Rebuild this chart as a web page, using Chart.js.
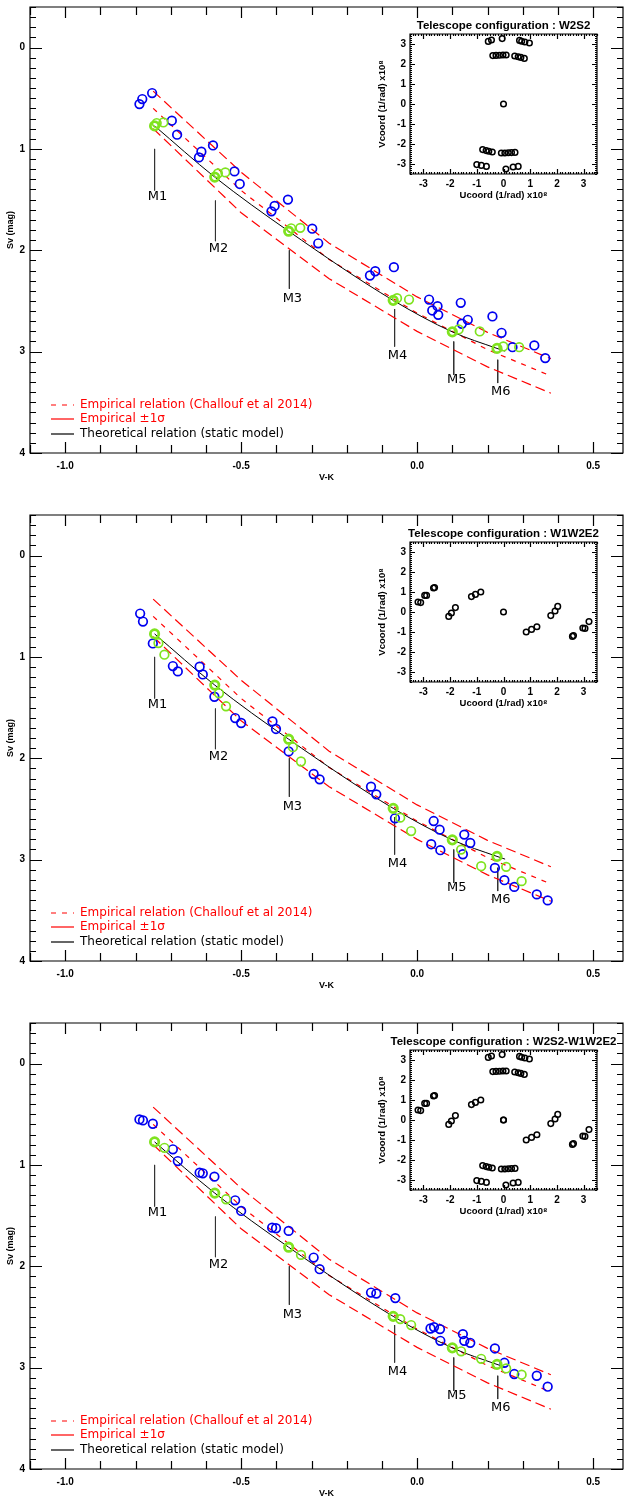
<!DOCTYPE html>
<html>
<head>
<meta charset="utf-8">
<script src="https://cdn.jsdelivr.net/npm/chart.js@4.4.0/dist/chart.umd.min.js"></script>
<style>
  body { margin: 0; background: #fff; width: 624px; height: 1496px; overflow: hidden; position: relative; }
  canvas { position: absolute; left: 0; }
  canvas.inset { left: 370px; }
</style>
</head>
<body>
<canvas id="main1" width="630" height="500" style="top:0px"></canvas>
<canvas id="main2" width="630" height="500" style="top:508px"></canvas>
<canvas id="main3" width="630" height="500" style="top:1016px"></canvas>
<canvas id="inset1" class="inset" width="254" height="196" style="top:14px"></canvas>
<canvas id="inset2" class="inset" width="254" height="196" style="top:522px"></canvas>
<canvas id="inset3" class="inset" width="254" height="196" style="top:1030px"></canvas>
<script>
// axes
const xMajorTicks = [-1.0, -0.5, 0.0, 0.5];
const xTickLabels = ['-1.0', '-0.5', '0.0', '0.5'];
const yMajorTicks = [0, 1, 2, 3, 4];
const yTickLabels = ['0', '1', '2', '3', '4'];
const uvTicks = [-3, -2, -1, 0, 1, 2, 3];
const uvTickLabels = ['-3', '-2', '-1', '0', '1', '2', '3'];

// theoretical relation (static model) and model points M1..M6
const theoX = [-0.746, -0.575, -0.365, -0.068, 0.100, 0.227, 0.250];
const theoY = [0.773, 1.278, 1.812, 2.494, 2.805, 2.968, 2.995];
const modelX = [-0.746, -0.575, -0.365, -0.068, 0.100, 0.227];
const modelY = [0.773, 1.278, 1.812, 2.494, 2.805, 2.968];

// empirical relation (Challouf et al 2014) and +-1 sigma
const empX = [-0.75, -0.5, -0.25, 0.0, 0.2, 0.38];
const empMid = [0.60, 1.41, 2.09, 2.62, 2.98, 3.24];
const empUp = [0.43, 1.23, 1.93, 2.46, 2.81, 3.07];
const empLow = [0.80, 1.63, 2.28, 2.80, 3.15, 3.41];

// M labels
const mLabels = ['M1', 'M2', 'M3', 'M4', 'M5', 'M6'];
const mX = [-0.746, -0.573, -0.363, -0.064, 0.104, 0.229];
const mLineTop = [1.00, 1.51, 2.00, 2.58, 2.90, 3.08];
const mLineBottom = [1.41, 1.91, 2.38, 2.95, 3.23, 3.31];
const mLabelY = [1.47, 1.98, 2.48, 3.04, 3.28, 3.39];

// panel 1 : W2S2
const blueX1 = [-0.789, -0.781, -0.753, -0.697, -0.682, -0.620, -0.613, -0.580, -0.519, -0.504, -0.414, -0.405, -0.367, -0.298, -0.281, -0.134, -0.119, -0.066, 0.034, 0.043, 0.058, 0.060, 0.124, 0.127, 0.144, 0.214, 0.240, 0.271, 0.333, 0.364];
const blueY1 = [0.558, 0.508, 0.449, 0.722, 0.860, 1.084, 1.028, 0.966, 1.222, 1.346, 1.616, 1.563, 1.500, 1.787, 1.931, 2.249, 2.207, 2.167, 2.486, 2.594, 2.552, 2.637, 2.518, 2.725, 2.686, 2.653, 2.814, 2.956, 2.939, 3.064];
const greenX1 = [-0.740, -0.721, -0.566, -0.545, -0.358, -0.332, -0.057, -0.023, 0.118, 0.178, 0.245, 0.290];
const greenY1 = [0.745, 0.739, 1.241, 1.232, 1.783, 1.779, 2.473, 2.486, 2.781, 2.801, 2.949, 2.956];

// panel 2 : W1W2E2
const blueX2 = [-0.787, -0.779, -0.751, -0.694, -0.680, -0.618, -0.609, -0.576, -0.517, -0.500, -0.411, -0.401, -0.365, -0.294, -0.277, -0.131, -0.116, -0.063, 0.047, 0.064, 0.040, 0.066, 0.134, 0.151, 0.130, 0.221, 0.248, 0.276, 0.340, 0.371];
const blueY2 = [0.572, 0.651, 0.867, 1.090, 1.143, 1.097, 1.173, 1.393, 1.603, 1.652, 1.636, 1.711, 1.932, 2.155, 2.208, 2.280, 2.356, 2.592, 2.619, 2.704, 2.848, 2.907, 2.753, 2.836, 2.947, 3.082, 3.203, 3.269, 3.343, 3.402];
const greenX2 = [-0.735, -0.718, -0.563, -0.543, -0.353, -0.330, -0.048, -0.017, 0.125, 0.182, 0.253, 0.297];
const greenY2 = [0.863, 0.978, 1.359, 1.487, 1.891, 2.032, 2.586, 2.718, 2.901, 3.065, 3.071, 3.212];

// panel 3 : W2S2-W1W2E2
const blueX3 = [-0.789, -0.779, -0.751, -0.694, -0.680, -0.618, -0.609, -0.576, -0.517, -0.500, -0.412, -0.401, -0.365, -0.294, -0.277, -0.131, -0.116, -0.062, 0.038, 0.048, 0.065, 0.066, 0.130, 0.134, 0.151, 0.221, 0.248, 0.276, 0.340, 0.371];
const blueY3 = [0.551, 0.561, 0.594, 0.846, 0.962, 1.077, 1.083, 1.116, 1.349, 1.454, 1.619, 1.625, 1.651, 1.914, 2.029, 2.259, 2.269, 2.314, 2.614, 2.600, 2.620, 2.735, 2.669, 2.735, 2.755, 2.811, 2.952, 3.063, 3.080, 3.188];
const greenX3 = [-0.718, -0.543, -0.330, -0.048, -0.017, 0.125, 0.182, 0.253, 0.297];
const greenY3 = [0.831, 1.339, 1.888, 2.521, 2.580, 2.839, 2.913, 3.008, 3.070];

// (u,v) coverage of the telescope configurations
const uW2S2 = [-0.57, -0.45, -0.05, 0.60, 0.68, 0.80, 0.97, -0.40, -0.28, -0.15, -0.02, 0.10, 0.42, 0.55, 0.65, 0.78, -0.78, -0.65, -0.55, -0.42, -0.08, 0.05, 0.18, 0.30, 0.43, -1.00, -0.83, -0.64, 0.09, 0.36, 0.55, 0.0];
const vW2S2 = [3.13, 3.20, 3.27, 3.18, 3.14, 3.10, 3.05, 2.42, 2.43, 2.44, 2.45, 2.45, 2.40, 2.36, 2.33, 2.28, -2.28, -2.33, -2.36, -2.40, -2.45, -2.45, -2.44, -2.43, -2.42, -3.03, -3.07, -3.12, -3.25, -3.15, -3.12, 0.0];
const uW1W2E2 = [-3.20, -3.10, -2.95, -2.88, -2.62, -2.58, -2.05, -1.95, -1.80, -1.20, -1.05, -0.85, 0.0, 0.85, 1.05, 1.25, 1.77, 1.93, 2.03, 2.58, 2.62, 2.97, 3.05, 3.20];
const vW1W2E2 = [0.50, 0.47, 0.83, 0.83, 1.20, 1.22, -0.22, -0.05, 0.22, 0.77, 0.88, 1.00, 0.0, -1.00, -0.87, -0.74, -0.18, 0.05, 0.28, -1.22, -1.18, -0.80, -0.82, -0.48];

// legend
const legendLabels = ['Empirical relation (Challouf et al 2014)', 'Empirical \u00b11\u03c3', 'Theoretical relation (static model)'];
const legendColors = ['#ff0000', '#ff0000', '#000000'];
const legendDash = [[5, 6], [], []];

const BLUE = '#0000f0';
const GREEN = '#7fe31f';
const RED = '#ff0000';

function pts(xs, ys) {
  return xs.map((x, i) => ({ x: x, y: ys[i] }));
}

function steps(min, max, step) {
  const out = [];
  for (let v = min; v <= max + 1e-9; v += step) out.push(Math.round(v * 1000) / 1000);
  return out;
}

// keep the plot box exactly where the layout puts it
function noPad(s) {
  s.paddingLeft = 0; s.paddingRight = 0; s.paddingTop = 0; s.paddingBottom = 0;
}

// frame with inward ticks (IDL style)
const framePlugin = {
  id: 'frame',
  afterDatasetsDraw(chart, args, o) {
    const { ctx, chartArea: a } = chart;
    const xs = chart.scales.x, ys = chart.scales.y;
    const isMajor = (list, v) => list.some(m => Math.abs(m - v) < 1e-6);
    ctx.save();
    ctx.strokeStyle = '#000';
    ctx.lineWidth = o.lineWidth;
    ctx.beginPath();
    ctx.rect(a.left, a.top, a.right - a.left, a.bottom - a.top);
    o.xMinor.forEach(v => {
      const p = Math.round(xs.getPixelForValue(v)) + 0.5;
      const len = isMajor(o.xMajor, v) ? o.xMajorLen : o.xMinorLen;
      ctx.moveTo(p, a.bottom); ctx.lineTo(p, a.bottom - len);
      ctx.moveTo(p, a.top); ctx.lineTo(p, a.top + len);
    });
    o.yMinor.forEach(v => {
      const p = Math.round(ys.getPixelForValue(v)) + 0.5;
      const len = isMajor(o.yMajor, v) ? o.yMajorLen : o.yMinorLen;
      ctx.moveTo(a.left, p); ctx.lineTo(a.left + len, p);
      ctx.moveTo(a.right, p); ctx.lineTo(a.right - len, p);
    });
    ctx.stroke();
    ctx.restore();
  }
};

// axis titles, M labels and legend of the main plots
const mainText = {
  id: 'mainText',
  afterDraw(chart) {
    const { ctx, chartArea: a } = chart;
    const xs = chart.scales.x, ys = chart.scales.y;
    ctx.save();
    ctx.fillStyle = '#000';
    ctx.textAlign = 'center';
    ctx.textBaseline = 'middle';
    ctx.font = 'bold 9px "Liberation Sans"';
    ctx.fillText('V-K', (a.left + a.right) / 2, 478);
    ctx.save();
    ctx.translate(11, (a.top + a.bottom) / 2);
    ctx.rotate(-Math.PI / 2);
    ctx.fillText('Sv (mag)', 0, 0);
    ctx.restore();

    ctx.font = '13px "DejaVu Sans"';
    mLabels.forEach((t, i) => {
      ctx.fillText(t, xs.getPixelForValue(mX[i]) + 3, ys.getPixelForValue(mLabelY[i]));
    });

    ctx.textAlign = 'left';
    ctx.font = '12px "DejaVu Sans"';
    const rows = [405, 419, 434];
    legendLabels.forEach((t, i) => {
      ctx.strokeStyle = legendColors[i];
      ctx.lineWidth = 1.2;
      ctx.setLineDash(legendDash[i]);
      ctx.beginPath();
      ctx.moveTo(51, rows[i]);
      ctx.lineTo(74, rows[i]);
      ctx.stroke();
      ctx.setLineDash([]);
      ctx.fillStyle = legendColors[i];
      ctx.fillText(t, 80, rows[i]);
    });
    ctx.restore();
  }
};

function mainChart(id, bx, by, gx, gy) {
  const mLines = [];
  mX.forEach((x, i) => {
    mLines.push({ x: x, y: mLineTop[i] }, { x: x, y: mLineBottom[i] }, { x: x, y: null });
  });
  const line = (data, color, dash, width, order) => ({
    data: data, showLine: true, borderColor: color, borderWidth: width, borderDash: dash,
    pointRadius: 0, fill: false, order: order
  });
  return new Chart(document.getElementById(id), {
    type: 'scatter',
    data: {
      datasets: [
        { data: pts(modelX, modelY), pointRadius: 4.2, borderWidth: 2.8, borderColor: GREEN, backgroundColor: 'transparent', order: 0 },
        { data: pts(gx, gy), pointRadius: 4.3, borderWidth: 1.7, borderColor: GREEN, backgroundColor: 'transparent', order: 1 },
        { data: pts(bx, by), pointRadius: 4.3, borderWidth: 1.7, borderColor: BLUE, backgroundColor: 'transparent', order: 2 },
        Object.assign(line(pts(theoX, theoY), '#000', [], 1, 3), { cubicInterpolationMode: 'monotone' }),
        line(pts(empX, empMid), RED, [5, 6], 1.2, 4),
        line(pts(empX, empUp), RED, [10, 5], 1.2, 5),
        line(pts(empX, empLow), RED, [10, 5], 1.2, 6),
        line(mLines, '#333', [], 1, 7)
      ]
    },
    options: {
      responsive: false,
      animation: false,
      events: [],
      layout: { padding: { top: 6, right: 2, left: 0, bottom: 0 } },
      plugins: {
        legend: { display: false },
        tooltip: { enabled: false },
        frame: {
          lineWidth: 1.2,
          xMajor: xMajorTicks, xMinor: steps(-1.1, 0.5, 0.1), xMajorLen: 11, xMinorLen: 8,
          yMajor: yMajorTicks, yMinor: steps(-0.4, 4, 0.1), yMajorLen: 12, yMinorLen: 6
        }
      },
      scales: {
        x: {
          type: 'linear', min: -1.1, max: 0.585,
          grid: { display: false, drawTicks: false }, border: { display: false },
          afterBuildTicks: s => { s.ticks = xMajorTicks.map(v => ({ value: v })); },
          afterFit: s => { s.height = 47; noPad(s); },
          ticks: {
            autoSkip: false, maxRotation: 0, padding: 7, color: '#000',
            font: { family: 'Liberation Sans', weight: 'bold', size: 10 },
            callback: (v, i) => xTickLabels[i]
          }
        },
        y: {
          type: 'linear', min: -0.4, max: 4, reverse: true,
          grid: { display: false, drawTicks: false }, border: { display: false },
          afterBuildTicks: s => { s.ticks = yMajorTicks.map(v => ({ value: v })); },
          afterFit: s => { s.width = 30; noPad(s); },
          ticks: {
            autoSkip: false, padding: 5, color: '#000',
            font: { family: 'Liberation Sans', weight: 'bold', size: 10 },
            callback: (v, i) => yTickLabels[i]
          }
        }
      }
    },
    plugins: [framePlugin, mainText]
  });
}

const insetText = {
  id: 'insetText',
  afterDraw(chart, args, o) {
    const { ctx, chartArea: a } = chart;
    ctx.save();
    ctx.fillStyle = '#000';
    ctx.textAlign = 'center';
    ctx.textBaseline = 'middle';
    ctx.font = 'bold 11.5px "Liberation Sans"';
    ctx.fillText(o.title, (a.left + a.right) / 2, a.top - 8);
    ctx.font = 'bold 9.5px "Liberation Sans"';
    ctx.fillText('Ucoord (1/rad) x10\u2078', (a.left + a.right) / 2, a.bottom + 21);
    ctx.translate(12, (a.top + a.bottom) / 2);
    ctx.rotate(-Math.PI / 2);
    ctx.fillText('Vcoord (1/rad) x10\u2078', 0, 0);
    ctx.restore();
  }
};

function insetChart(id, title, u, v) {
  return new Chart(document.getElementById(id), {
    type: 'scatter',
    data: {
      datasets: [{ data: pts(u, v), pointRadius: 2.8, borderWidth: 1.5, borderColor: '#000', backgroundColor: 'transparent' }]
    },
    options: {
      responsive: false,
      animation: false,
      events: [],
      layout: { padding: { top: 20, right: 27, left: 0, bottom: 0 } },
      plugins: {
        legend: { display: false },
        tooltip: { enabled: false },
        insetText: { title: title },
        frame: {
          lineWidth: 1.2,
          xMajor: uvTicks, xMinor: steps(-3.5, 3.5, 0.1), xMajorLen: 5, xMinorLen: 2,
          yMajor: uvTicks, yMinor: steps(-3.5, 3.5, 0.1), yMajorLen: 5, yMinorLen: 2
        }
      },
      scales: {
        x: {
          type: 'linear', min: -3.5, max: 3.5,
          grid: { display: false, drawTicks: false }, border: { display: false },
          afterBuildTicks: s => { s.ticks = uvTicks.map(t => ({ value: t })); },
          afterFit: s => { s.height = 36; noPad(s); },
          ticks: {
            autoSkip: false, maxRotation: 0, padding: 4, color: '#000',
            font: { family: 'Liberation Sans', weight: 'bold', size: 10 },
            callback: (t, i) => uvTickLabels[i]
          }
        },
        y: {
          type: 'linear', min: -3.5, max: 3.5,
          grid: { display: false, drawTicks: false }, border: { display: false },
          afterBuildTicks: s => { s.ticks = uvTicks.map(t => ({ value: t })); },
          afterFit: s => { s.width = 40; noPad(s); },
          ticks: {
            autoSkip: false, padding: 4, color: '#000',
            font: { family: 'Liberation Sans', weight: 'bold', size: 10 },
            callback: (t, i) => uvTickLabels[i]
          }
        }
      }
    },
    plugins: [framePlugin, insetText]
  });
}

mainChart('main1', blueX1, blueY1, greenX1, greenY1);
mainChart('main2', blueX2, blueY2, greenX2, greenY2);
mainChart('main3', blueX3, blueY3, greenX3, greenY3);
insetChart('inset1', 'Telescope configuration : W2S2', uW2S2, vW2S2);
insetChart('inset2', 'Telescope configuration : W1W2E2', uW1W2E2, vW1W2E2);
insetChart('inset3', 'Telescope configuration : W2S2-W1W2E2', uW2S2.concat(uW1W2E2), vW2S2.concat(vW1W2E2));
</script>
</body>
</html>
